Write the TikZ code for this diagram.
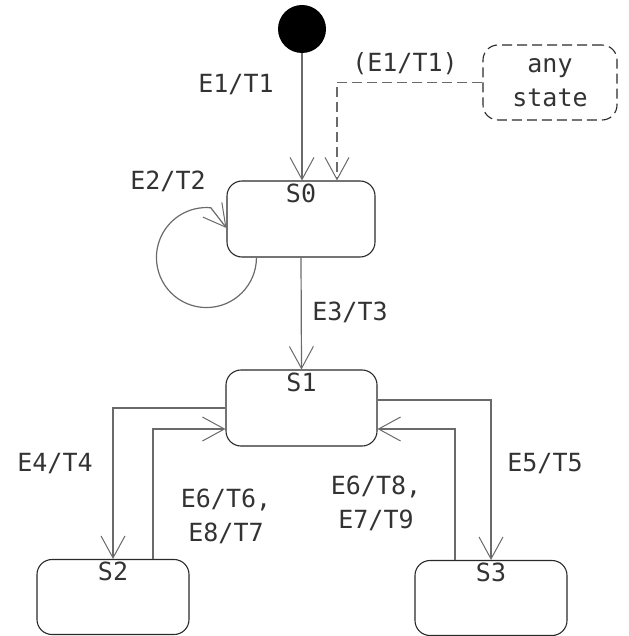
\documentclass[tikz,border=0pt]{standalone}
\usepackage{fontspec}
\setmainfont{DejaVu Sans Mono}
\usetikzlibrary{arrows.meta,calc}
\definecolor{linec}{HTML}{6A6A6A}
\definecolor{boxc}{HTML}{2A2A2A}
\definecolor{txtc}{HTML}{333333}
\tikzset{
  state/.style={draw=boxc, line width=1.1pt, rounded corners=15pt, minimum width=#1, minimum height=76pt, inner sep=0pt},
  state/.default=151pt,
  sname/.style={anchor=north, inner sep=0pt, yshift=-3pt, font=\fontsize{25}{26}\selectfont, text=txtc},
  conn/.style={draw=linec, line width=1.2pt, -{Straight Barb[length=22pt,width=24pt,line width=1pt]}},
  lbl/.style={font=\fontsize{25}{34}\selectfont, text=txtc, inner sep=0pt, align=center},
}
\begin{document}
\begin{tikzpicture}[x=1pt,y=-1pt]
\useasboundingbox (0,0) rectangle (628,636);
\node[circle, fill=black, minimum size=48pt, inner sep=0pt] (init) at (302,29) {};
\node[state=148pt, label={[sname]north:S0}] (S0) at (301,219) {};
\node[state=134pt, dash pattern=on 10pt off 5pt, font=\fontsize{25}{34}\selectfont, text=txtc, align=center, minimum height=75pt] (any) at (550,82.5) {any\\state};
\node[state=151pt, label={[sname]north:S1}] (S1) at (301.5,408) {};
\node[state=152pt, minimum height=75pt, label={[sname]north:S2}] (S2) at (113,597) {};
\node[state=152pt, minimum height=75pt, label={[sname]north:S3}] (S3) at (491,598) {};
% connectors
\draw[conn] (init.south) -- (init.south |- S0.north);
\draw[conn, dash pattern=on 10pt off 5pt] (any.west) -| ([xshift=36pt]S0.north);
\coordinate (loopstart) at ([xshift=30pt]S0.south west);
\draw[conn] (loopstart) arc[start angle=0, end angle=275, radius=50] -- ([yshift=-9pt]S0.north west |- S0.west) ;
\draw[conn] (S0.south) -- (S1.north);
\draw[conn] (S1.west) -| (S2.north);
\draw[conn] ([xshift=40pt]S2.north) |- ([yshift=-21pt]S1.west);
\draw[conn] ([yshift=8pt]S1.east) -| (S3.north);
\draw[conn] ([xshift=-36pt]S3.north) |- ([yshift=-21pt]S1.east);
% labels
\node[lbl] (l1) at (236,85) {E1/T1};
\node[lbl] (l1b) at (405,64) {(E1/T1)};
\node[lbl] (l2) at (168,181) {E2/T2};
\node[lbl] (l3) at (350,312) {E3/T3};
\node[lbl] (l4) at (55,464) {E4/T4};
\node[lbl] (l5) at (545,464) {E5/T5};
\node[lbl] (l6) at (226,516) {E6/T6,\\E8/T7};
\node[lbl] (l7) at (376,503) {E6/T8,\\E7/T9};
\end{tikzpicture}
\end{document}
